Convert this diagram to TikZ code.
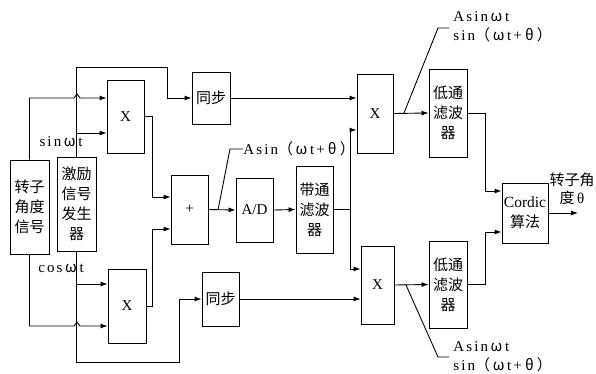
\documentclass[tikz,border=0pt]{standalone}
\usepackage{fontspec}
\setmainfont{Liberation Serif}
\newfontfamily\cjk{Noto Sans CJK SC}
\newfontfamily\lab[LetterSpace=14]{Liberation Serif}
\usetikzlibrary{arrows.meta}
\newcommand{\cj}[1]{{\cjk #1}}
\newcommand{\gw}{\makebox[17pt]{\cjk ω}}
\newcommand{\gth}{\makebox[15pt]{\cjk θ}}
\begin{document}
\begin{tikzpicture}[x=1pt,y=-1pt, line width=0.9pt,
  box/.style={draw, inner sep=0pt, align=center, font=\cjk\fontsize{15}{20}\selectfont},
  arr/.style={-{Latex[length=7pt,width=5pt]}},
  lbl/.style={inner sep=0pt, align=left, font=\lab\fontsize{15}{19}\selectfont}]
\useasboundingbox (0,0) rectangle (596,374);

% boxes
\node[box, minimum width=39pt, minimum height=94pt] (rotor) at (29.5,207) {转子\\角度\\信号};
\node[box, minimum width=39pt, minimum height=94pt] (exc) at (76.5,204) {激励\\信号\\发生\\器};
\node[box, minimum width=37pt, minimum height=73pt] (x1) at (125.5,116.5) {\rmfamily X};
\node[box, minimum width=38pt, minimum height=74pt] (x2) at (127,306) {\rmfamily X};
\node[box, minimum width=38pt, minimum height=52pt] (sync1) at (211,98) {同步};
\node[box, minimum width=37pt, minimum height=54pt] (sync2) at (220.5,299) {同步};
\node[box, minimum width=37pt, minimum height=69pt] (plus) at (189.5,209.5) {\rmfamily +};
\node[box, minimum width=37pt, minimum height=64pt] (ad) at (254.5,210) {\rmfamily A/D};
\node[box, minimum width=37pt, minimum height=87pt] (bp) at (314.5,209.5) {带通\\滤波\\器};
\node[box, minimum width=36pt, minimum height=79pt] (x3) at (375,113.5) {\rmfamily X};
\node[box, minimum width=33pt, minimum height=78pt] (x4) at (377.5,285) {\rmfamily X};
\node[box, minimum width=38pt, minimum height=88pt] (lp1) at (448,113) {低通\\滤波\\器};
\node[box, minimum width=38pt, minimum height=87pt] (lp2) at (448,284.5) {低通\\滤波\\器};
\node[box, minimum width=46pt, minimum height=60pt] (cordic) at (525,213) {{\rmfamily\fontsize{15.5}{20}\selectfont Cordic}\\算法};

% labels
\node[lbl] (lsin) at (61,142) {sin\gw t};
\node[lbl] (lcos) at (61,268) {cos\gw t};
\node[lbl, anchor=west] (lad) at (243,149) {Asin\cj{（}\gw t+\gth\cj{）}};
\node[lbl, anchor=west] (l3) at (453,27) {Asin\gw t\\sin\cj{（}\gw t+\gth\cj{）}};
\node[lbl, anchor=west] (l4) at (453,357) {Asin\gw t\\sin\cj{（}\gw t+\gth\cj{）}};
\node[box, draw=none, font=\cjk\fontsize{15}{18}\selectfont] (lout) at (572,189) {转子角\\度\,{\rmfamily θ}};
\coordinate (out) at (578,213);

% left side
\draw[arr] (rotor.north) |- (74,98) -- ++(3,-4) -- ++(3,4) -- (x1.west |- 0,98);
\draw[arr] (exc.north) |- (167,67) |- (sync1.west);
\draw[arr] (exc.north |- 0,133) -- (x1.west |- 0,133);
\draw[arr] (rotor.south) |- (74,326) -- ++(3,-4) -- ++(3,4) -- (x2.west |- 0,326);
\draw[arr] (exc.south) |- (179,362) |- (sync2.west);
\draw[arr] (exc.south |- 0,284) -- (x2.west |- 0,284);

% to adder
\draw[arr] (x1.east) -| (152,197) -- (plus.west |- 0,197);
\draw[arr] (x2.east) -| (152,229) -- (plus.west |- 0,229);
\draw[arr] (plus.east) -- (ad.west);
\draw (218,210) -- (230,149) -- (lad.west);
\draw[arr] (ad.east) -- (bp.west);

% to multipliers
\draw[arr] (bp.east) -| (350,130) -- (x3.west |- 0,130);
\draw[arr] (bp.east) -| (350,269) -- (x4.west |- 0,269);
\draw[arr] (sync1.east) -- (x3.west |- sync1.east);
\draw[arr] (sync2.east) -- (x4.west |- sync2.east);

% to low pass
\draw[arr] (x3.east) -- (lp1.west);
\draw (404,113) -- (438,28) -- (449,28);
\draw[arr] (x4.east) -- (lp2.west);
\draw (406,285) -- (438,357) -- (449,357);

% to cordic
\draw[arr] (lp1.east) -| (485,191) -- (cordic.west |- 0,191);
\draw[arr] (lp2.east) -| (485,232) -- (cordic.west |- 0,232);
\draw[arr] (cordic.east) -- (out);
\end{tikzpicture}
\end{document}
